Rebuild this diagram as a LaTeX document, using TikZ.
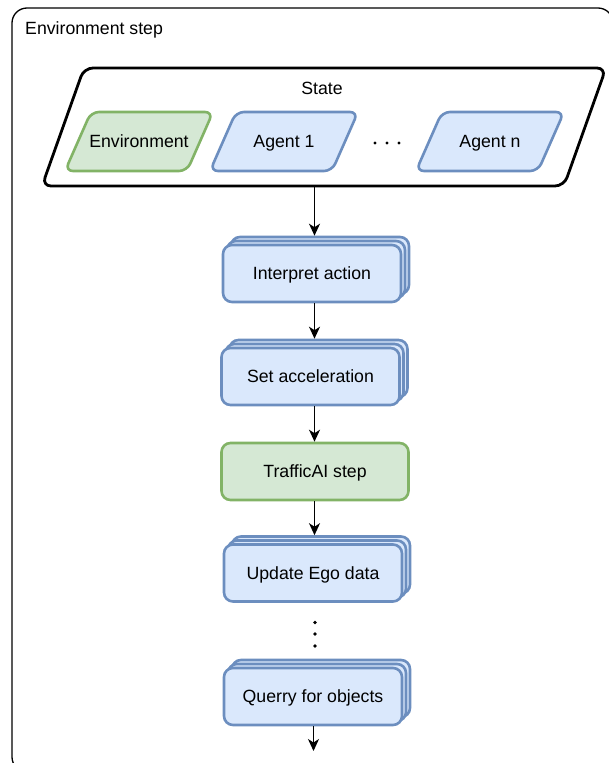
\documentclass[tikz,border=0pt]{standalone}
\usepackage{fontspec}
\setmainfont{Liberation Sans}
\usetikzlibrary{arrows.meta}

\definecolor{blueFill}{HTML}{DAE8FC}
\definecolor{blueLine}{HTML}{6C8EBF}
\definecolor{greenFill}{HTML}{D5E8D4}
\definecolor{greenLine}{HTML}{82B366}

\tikzset{
  lbl/.style={font=\fontsize{17.7}{21}\selectfont, inner sep=0pt,
    text height=12.8pt, text depth=0pt},
  flowbox/.style={lbl, draw, rounded corners=9pt, line width=2.6pt,
    minimum width=178pt, minimum height=57pt},
  bluebox/.style={flowbox, draw=blueLine, fill=blueFill},
  greenbox/.style={flowbox, draw=greenLine, fill=greenFill},
  bluepara/.style={draw=blueLine, fill=blueFill, line width=2.6pt, rounded corners=8pt},
  greenpara/.style={draw=greenLine, fill=greenFill, line width=2.6pt, rounded corners=8pt},
  statepara/.style={draw=black, fill=white, line width=2.8pt, rounded corners=9pt},
  frame/.style={draw=black, line width=1.3pt, rounded corners=15pt},
  link/.style={line width=1.5pt, -{Stealth[length=12pt,width=11pt,inset=3.5pt]}},
}

% three stacked rounded boxes; the front one carries the label
\newcommand\stackbox[4]{%
  \node[bluebox] (#1b) at (#2+8,#3-8) {};
  \node[bluebox] (#1m) at (#2+4,#3-4) {};
  \node[bluebox] (#1) at (#2,#3) {#4};
}
% slanted box centred at (#2,#3)
\newcommand\slantbox[5]{%
  \draw[#4] (#2-48,#3-29.5) -- (#2+74,#3-29.5) -- (#2+48,#3+29.5) -- (#2-74,#3+29.5) -- cycle;
  \node[lbl] (#1) at (#2,#3) {#5};
}

\begin{document}
\begin{tikzpicture}[x=1pt, y=-1pt]
  \useasboundingbox (0,0) rectangle (608,763);

  % container
  \draw[frame] (12,8) rectangle (613,772);
  \node[lbl, anchor=west] (title) at (25,28) {Environment step};

  % state
  \draw[statepara] (84,68) -- (606,68) -- (564,186) -- (42,186) -- cycle;
  \node[minimum width=480pt, minimum height=118pt, inner sep=0pt] (state) at (324,127) {};
  \node[lbl] (statelbl) at (322,88) {State};

  \slantbox{env}{139}{141.5}{greenpara}{Environment}
  \slantbox{ag1}{284}{141.5}{bluepara}{Agent 1}
  \slantbox{agn}{490}{141.5}{bluepara}{Agent n}
  \foreach \x in {375,387,399} \fill (\x,143) circle (1.7pt);

  % processing chain
  \coordinate (axis) at (314.5,0);
  \stackbox{ia}{312}{273.5}{Interpret action}
  \stackbox{sa}{310.5}{376.5}{Set acceleration}
  \node[greenbox, minimum width=187pt] (tai) at (315,471.5) {TrafficAI step};
  \stackbox{ued}{313}{573}{Update Ego data}
  \foreach \y in {622.5,634,646} \fill (315,\y) circle (1.8pt);
  \stackbox{qo}{313}{696.5}{Querry for objects}
  \coordinate (out) at (313.5,751);

  \draw[link] (state.south -| axis) -- (iab.north -| axis);
  \draw[link] (ia.south -| axis) -- (sab.north -| axis);
  \draw[link] (sa.south -| axis) -- (tai.north -| axis);
  \draw[link] (tai.south -| axis) -- (uedb.north -| axis);
  \draw[link] (qo.south -| out) -- (out);
\end{tikzpicture}
\end{document}
